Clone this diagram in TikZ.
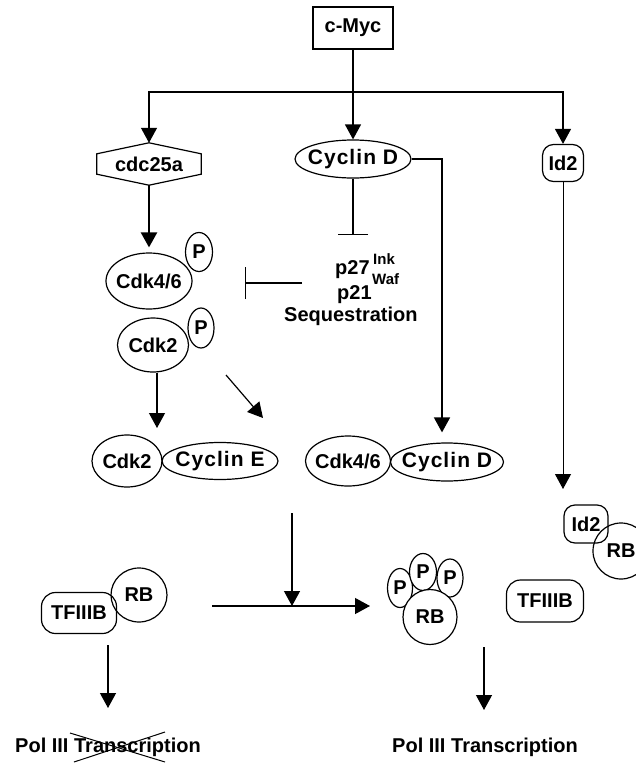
\documentclass[tikz,border=0pt]{standalone}
\usepackage{fontspec}
\setmainfont{Liberation Sans}
\usetikzlibrary{arrows.meta,shapes.geometric,calc}
\begin{document}
\begin{tikzpicture}[x=1pt,y=-1pt,
  txt/.style={font=\fontsize{20}{22}\selectfont\bfseries},
  every node/.style={txt, inner sep=0pt},
  every label/.style={txt, inner sep=0pt},
  cyc/.style={font=\fontsize{21}{23}\selectfont\bfseries\addfontfeatures{LetterSpace=5}},
  scr/.style={font=\fontsize{15}{16}\selectfont\bfseries},
  ol/.style={draw, line width=1.2pt},
  ell/.style 2 args={ol, ellipse, minimum width=#1, minimum height=#2},
  arr/.style={-{Triangle[width=16pt,length=15pt]}, line width=1.2pt},
  inh/.style={-{Bar[width=#1]}, line width=1.3pt},
]
\fill[white] (0,0) rectangle (636,763);
\useasboundingbox (0,0) rectangle (636,763);

% top
\node[ol, minimum width=80pt, minimum height=42pt] (myc) at (353,28) {c-Myc};
\node[minimum width=104pt, minimum height=42pt] (cdc) at (149,164) {cdc25a};
\draw[ol] (cdc.north) -- ($(cdc.north east)+(0,11)$) -- ($(cdc.south east)+(0,-11)$)
  -- (cdc.south) -- ($(cdc.south west)+(0,-11)$) -- ($(cdc.north west)+(0,11)$) -- cycle;
\node[ell={116pt}{38pt}, label={[cyc]center:Cyclin D}] (cycD) at (353,159) {};
\node[ol, rounded corners=11pt, minimum width=41pt, minimum height=37pt] (id2) at (563,163) {Id2};

\coordinate (j) at (353,92);
\draw[line width=1.4pt] (myc.south) -- (j);
\draw[arr] (j) -| (cdc.north);
\draw[arr] (j) -- (cycD.north);
\draw[arr] (j) -| (id2.north);

% middle left
\node[ell={86pt}{56pt}, label=center:{Cdk4/6}] (cdk46) at (149,281) {};
\node[ell={27pt}{39pt}, label=center:{P}] (p1) at (199,252) {};
\node[ell={71pt}{54pt}, label=center:{Cdk2}] (cdk2) at (153,345) {};
\node[ell={26pt}{40pt}, label=center:{P}] (p2) at (201,328) {};
\draw[arr, line width=2.4pt, shorten >=5pt] (cdc.south) -- (cdk46.north);

% inhibitors
\coordinate (t1) at (353,235);
\draw[inh=30pt] (cycD.south) -- (t1);
\node[anchor=base west] (p27) at (335,274) {p27};
\node[scr, anchor=base west] (ink) at (373,264) {Ink};
\node[scr, anchor=base west] (waf) at (372,284) {Waf};
\node[anchor=base west] (p21) at (337,299) {p21};
\node[anchor=base west] (seq) at (284,321) {Sequestration};
\coordinate (i1) at (302,283);
\coordinate (i2) at (245,283);
\draw[inh=32pt] (i1) -- (i2);

% complexes
\node[ell={70pt}{52pt}, label=center:{Cdk2}] (cdk2b) at (127,461) {};
\node[ell={116pt}{37pt}, label={[cyc]center:Cyclin E}] (cycE) at (220,461) {};
\node[ell={85pt}{50pt}, label=center:{Cdk4/6}] (cdk46b) at (348,461) {};
\node[ell={113pt}{38pt}, label={[cyc]center:Cyclin D}] (cycDb) at (447,462) {};

\coordinate (a2) at (157,428);
\draw[arr] (cdk2.south -| a2) -- (a2);
\coordinate (d1) at (226,375);
\coordinate (d2) at (263,418);
\draw[arr] (d1) -- (d2);
\draw[arr, line width=1.6pt, shorten >=10pt] (cycD.east) -| ([xshift=-5pt]cycDb.north);
\coordinate (ia) at (563,489);
\draw[arr, line width=1pt] (id2.south) -- (ia);

% bottom
\coordinate (v1) at (292,513);
\coordinate (v2) at (292,606);
\draw[arr] (v1) -- (v2);
\coordinate (h1) at (212,606);
\coordinate (h2) at (370,606);
\draw[arr] (h1) -- (h2);

\node[ol, rounded corners=14pt, minimum width=75pt, minimum height=41pt] (tf1) at (79,613) {TFIIIB};
\node[ell={56pt}{54pt}, label=center:{RB}] (rb1) at (139,595) {};
\coordinate (l1) at (108,645);
\coordinate (l2) at (108,708);
\draw[arr] (l1) -- (l2);
\node (pol1) at (108,747) {Pol III Transcription};
\coordinate (x1) at (70,733);
\coordinate (x2) at (165,762);
\coordinate (x3) at (74,762);
\coordinate (x4) at (165,732);
\draw[line width=1pt] (x1) -- (x2);
\draw[line width=1pt] (x3) -- (x4);

\node[ell={25pt}{39pt}, fill=white, label=center:{P}] (pa) at (400,588) {};
\node[ell={26pt}{38pt}, fill=white, label=center:{P}] (pc) at (450,578) {};
\node[ell={27pt}{37pt}, fill=white, label=center:{P}] (pb) at (423,572) {};
\node[ell={54pt}{55pt}, fill=white, label=center:{RB}] (rb2) at (430,617) {};

\node[ol, rounded corners=14pt, minimum width=77pt, minimum height=42pt] (tf2) at (545,601) {TFIIIB};
\node[ol, rounded corners=11pt, minimum width=44pt, minimum height=38pt] (id2b) at (586,524) {Id2};
\node[ell={56pt}{56pt}, label=center:{RB}] (rb3) at (621,551) {};

\coordinate (r1) at (484,647);
\coordinate (r2) at (484,710);
\draw[arr] (r1) -- (r2);
\node (pol2) at (485,747) {Pol III Transcription};
\end{tikzpicture}
\end{document}
